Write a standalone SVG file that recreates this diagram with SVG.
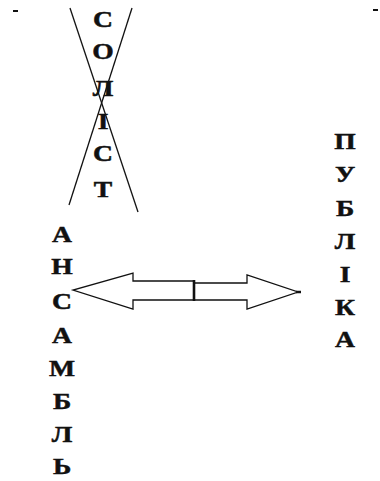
<svg xmlns="http://www.w3.org/2000/svg" width="380" height="481" viewBox="0 0 380 481">
<style>
.t{font-family:"Liberation Serif","Times New Roman",serif;font-weight:bold;font-size:24px;fill:#111;stroke:#111;stroke-width:0.5;text-anchor:middle}
.ln{stroke:#111;stroke-width:1.3;fill:none}
.ar{stroke:#111;stroke-width:1.3;fill:#fff;stroke-linejoin:miter}
</style>
<rect width="380" height="481" fill="#fff"/>
<g id="marks">
<line x1="13" y1="11" x2="18" y2="11" stroke="#111" stroke-width="2"/>
<line x1="373" y1="10" x2="378" y2="10" stroke="#111" stroke-width="2"/>
</g>
<g id="soloist">
<line class="ln" x1="70" y1="8" x2="138" y2="212"/>
<line class="ln" x1="132" y1="8" x2="69" y2="205"/>
<g transform="translate(103,0) scale(1.15,1)">
<text class="t" x="0" y="27">С</text>
<text class="t" x="0" y="59">О</text>
<text class="t" x="0" y="96">Л</text>
<text class="t" x="0" y="129">І</text>
<text class="t" x="0" y="161">С</text>
<text class="t" x="0" y="197">Т</text>
</g>
</g>
<g id="ensemble">
<g transform="translate(62,0) scale(1.15,1)">
<text class="t" x="0" y="242">А</text>
<text class="t" x="0" y="274">Н</text>
<text class="t" x="0" y="309">С</text>
<text class="t" x="0" y="343">А</text>
<text class="t" x="0" y="376">М</text>
<text class="t" x="0" y="409">Б</text>
<text class="t" x="0" y="442">Л</text>
<text class="t" x="0" y="474">Ь</text>
</g>
</g>
<g id="public">
<g transform="translate(345,0) scale(1.15,1)">
<text class="t" x="0" y="149">П</text>
<text class="t" x="0" y="182">У</text>
<text class="t" x="0" y="216">Б</text>
<text class="t" x="0" y="249">Л</text>
<text class="t" x="0" y="282">І</text>
<text class="t" x="0" y="315">К</text>
<text class="t" x="0" y="347">А</text>
</g>
</g>
<g id="connectors">
<polygon class="ar" points="194,281 133,281 133,273 73,290 133,309 133,300 194,300"/>
<polygon class="ar" points="194,283 247,283 247,275 298,292 247,309 247,300 194,300"/>
<line x1="194" y1="280" x2="194" y2="301" stroke="#111" stroke-width="2.6"/>
<line x1="296" y1="292" x2="301" y2="292" stroke="#111" stroke-width="2.5"/>
</g>
</svg>
